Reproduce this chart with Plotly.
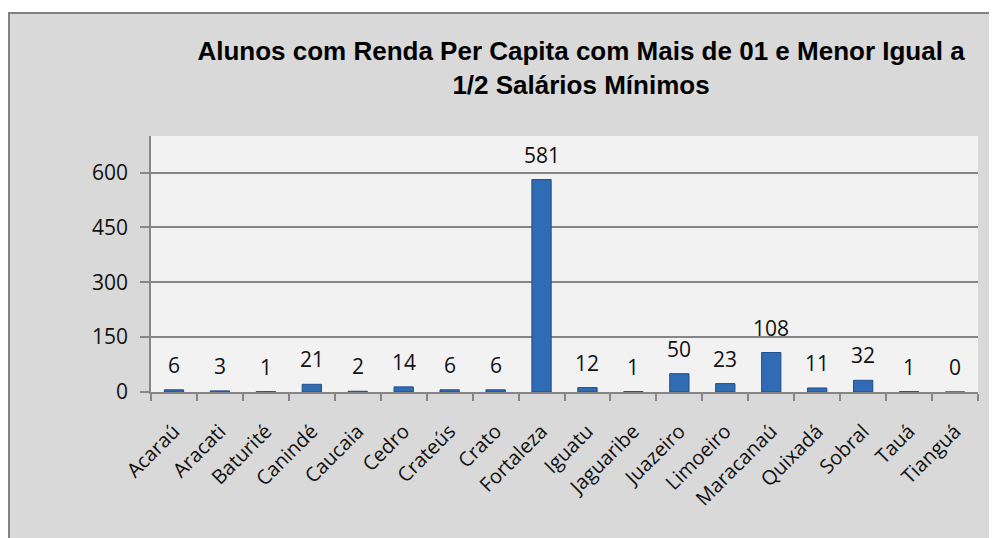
import plotly.graph_objects as go

categories = ["Acaraú", "Aracati", "Baturité", "Canindé", "Caucaia", "Cedro", "Crateús",
              "Crato", "Fortaleza", "Iguatu", "Jaguaribe", "Juazeiro", "Limoeiro",
              "Maracanaú", "Quixadá", "Sobral", "Tauá", "Tianguá"]
values = [6, 3, 1, 21, 2, 14, 6, 6, 581, 12, 1, 50, 23, 108, 11, 32, 1, 0]
y_ticks = [0, 150, 300, 450, 600]
title_text = "Alunos com Renda Per Capita com Mais de 01 e Menor Igual a<br>1/2 Salários Mínimos"

# figure sits at an 8px page offset (default body margin)
W, H = 989, 530
L, R, T, B = 143, 19, 128, 146
pw, ph = W - L - R, H - T - B

def px_to_paper_x(px):
    return (px - L) / pw

def px_to_paper_y(py):
    return (H - B - py) / ph

FONT = "Open Sans, Noto Sans, Liberation Sans"

fig = go.Figure()
fig.add_trace(go.Bar(
    x=categories, y=values, width=0.42,
    marker=dict(color="#2f6cb4", line=dict(color="#1f4f8c", width=1)),
    hoverinfo="x+y",
))

for c, v in zip(categories, values):
    fig.add_annotation(x=c, y=v, text=str(v), showarrow=False, yanchor="bottom",
                       yshift=9, font=dict(family=FONT, size=21, color="#111111"))

# outer chart area and plot area backgrounds
fig.add_shape(type="rect", xref="paper", yref="paper",
              x0=px_to_paper_x(1), x1=px_to_paper_x(1010),
              y0=px_to_paper_y(560), y1=px_to_paper_y(5),
              fillcolor="#d9d9d9", line=dict(color="#828282", width=2), layer="below")
fig.add_shape(type="rect", xref="paper", yref="paper", x0=0, x1=1, y0=0, y1=1,
              fillcolor="#f2f2f2", line=dict(width=0), layer="below")

fig.update_layout(
    width=W, height=H,
    margin=dict(l=L, r=R, t=T, b=B, pad=0),
    paper_bgcolor="#ffffff", plot_bgcolor="rgba(0,0,0,0)",
    showlegend=False,
    title=dict(text=title_text, x=573 / W, xanchor="center", xref="container",
               y=1 - 52 / H, yanchor="middle", yref="container",
               font=dict(family="Liberation Sans, Arial", size=26, color="#000000", weight="bold")),
    xaxis=dict(type="category", tickson="boundaries", ticks="outside", ticklen=7,
               tickcolor="#868686", tickwidth=1.5, showline=True, linecolor="#868686",
               linewidth=1.5, tickangle=-45, showgrid=False, ticklabelstandoff=18,
               tickfont=dict(family=FONT, size=20, color="#111111")),
    yaxis=dict(range=[0, 700], tickvals=y_ticks, ticks="outside", ticklen=9,
               tickcolor="#868686", tickwidth=1.5, showline=True, linecolor="#868686",
               linewidth=1.5, showgrid=True, gridcolor="#868686", gridwidth=1.5,
               zeroline=False, ticklabelstandoff=8,
               tickfont=dict(family=FONT, size=21, color="#111111")),
)

fig.write_html("out.html")
